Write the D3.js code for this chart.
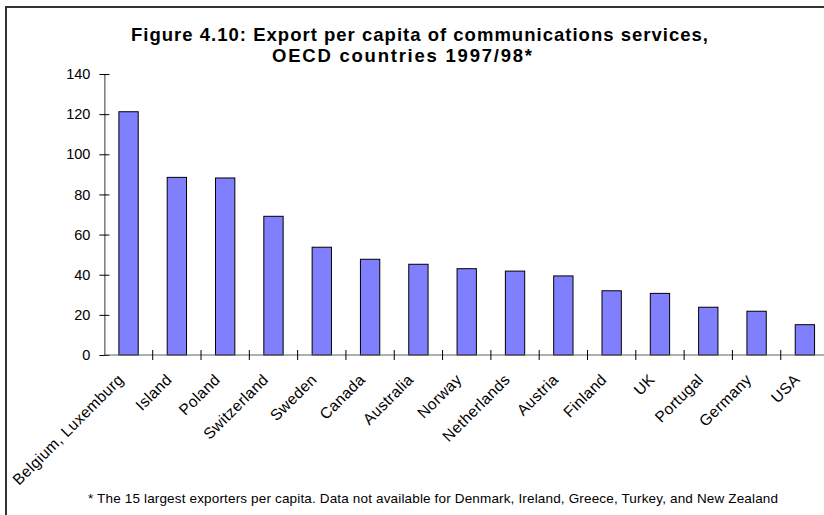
<!DOCTYPE html>
<html>
<head>
<meta charset="utf-8">
<script src="https://cdn.jsdelivr.net/npm/d3@7"></script>
<style>
  html, body { margin: 0; padding: 0; background: #fff; }
  svg { display: block; font-family: "Liberation Sans", Arial, sans-serif; }
</style>
</head>
<body>
<svg id="chart" width="824" height="515"></svg>
<script>
// Export per capita of communications services, OECD countries 1997/98
const countries = ["Belgium, Luxemburg", "Island", "Poland", "Switzerland", "Sweden",
  "Canada", "Australia", "Norway", "Netherlands", "Austria",
  "Finland", "UK", "Portugal", "Germany", "USA"];
const exportPerCapita = [121.2, 88.5, 88.2, 69.1, 53.7, 47.7, 45.2, 43.0, 41.8, 39.4,
  32.0, 30.7, 23.8, 21.8, 15.1];
const yTickValues = [0, 20, 40, 60, 80, 100, 120, 140];
const titleLines = ["Figure 4.10: Export per capita of communications services,",
  "OECD countries 1997/98*"];
const footnote = "* The 15 largest exporters per capita. Data not available for Denmark, Ireland, Greece, Turkey, and New Zealand";

const svg = d3.select("#chart");

// chart frame (only its top and left edges fall inside the page)
svg.append("rect")
  .attr("x", 6).attr("y", 7).attr("width", 1000).attr("height", 700)
  .attr("fill", "none").attr("stroke", "#333").attr("stroke-width", 2);

// plot area
const plotLeft = 104.4, plotTop = 74, plotBottom = 355;
const step = 48.31;
const x = d3.scaleBand().domain(countries).range([plotLeft, plotLeft + step * countries.length]).padding(0);
const y = d3.scaleLinear().domain([0, 140]).range([plotBottom, plotTop]);

// bars: 40% of each category slot, centred
const barFrac = 0.4;
svg.append("g").selectAll("rect")
  .data(countries)
  .join("rect")
  .attr("x", d => x(d) + x.bandwidth() * (1 - barFrac) / 2)
  .attr("width", x.bandwidth() * barFrac)
  .attr("y", (d, i) => y(exportPerCapita[i]))
  .attr("height", (d, i) => y(0) - y(exportPerCapita[i]))
  .attr("fill", "#8080ff")
  .attr("stroke", "#000")
  .attr("stroke-width", 1);

// y axis
const yAxis = svg.append("g")
  .attr("transform", `translate(${plotLeft},0)`)
  .call(d3.axisLeft(y).tickValues(yTickValues).tickSize(5).tickSizeOuter(0).tickPadding(9));
yAxis.select(".domain").attr("stroke", "#333");
yAxis.selectAll(".tick line").attr("x1", -5).attr("x2", 5).attr("stroke", "#000");
yAxis.selectAll(".tick text")
  .attr("font-size", "14.5px")
  .attr("font-family", "'Liberation Sans', Arial, sans-serif")
  .attr("fill", "#000");

// x axis line, running out to the page edge
svg.append("line")
  .attr("x1", plotLeft).attr("x2", 824)
  .attr("y1", y(0)).attr("y2", y(0))
  .attr("stroke", "#606060").attr("stroke-width", 1.2);

// category boundary ticks
svg.append("g").selectAll("line")
  .data(countries.slice(1))
  .join("line")
  .attr("x1", d => x(d)).attr("x2", d => x(d))
  .attr("y1", y(0) - 5).attr("y2", y(0) + 5)
  .attr("stroke", "#000");

// rotated category labels
svg.append("g").selectAll("text")
  .data(countries)
  .join("text")
  .attr("transform", d => `translate(${x(d) + x.bandwidth() / 2 - 4},${y(0) + 25.5}) rotate(-45)`)
  .attr("text-anchor", "end")
  .attr("font-size", "15.5px")
  .attr("letter-spacing", "0.4px")
  .attr("fill", "#000")
  .text(d => d);

// title, two lines
const title = svg.append("g")
  .attr("font-weight", "bold")
  .attr("font-size", "18.5px")
  .attr("fill", "#000");
title.append("text").attr("x", 131).attr("y", 40.5)
  .attr("textLength", 577).attr("lengthAdjust", "spacing").text(titleLines[0]);
title.append("text").attr("x", 272).attr("y", 61.5)
  .attr("textLength", 260).attr("lengthAdjust", "spacing").text(titleLines[1]);

// footnote
svg.append("text")
  .attr("x", 88).attr("y", 502.5)
  .attr("font-size", "13.5px")
  .attr("textLength", 690).attr("lengthAdjust", "spacing")
  .attr("fill", "#000")
  .text(footnote);
</script>
</body>
</html>
